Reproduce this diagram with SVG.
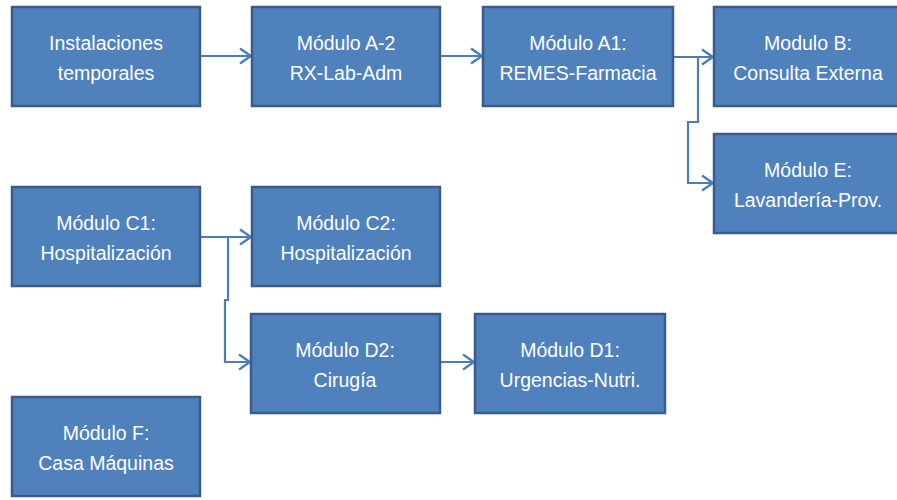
<svg xmlns="http://www.w3.org/2000/svg" width="897" height="500" viewBox="0 0 897 500">
<style>
.box{fill:#4F81BD;stroke:#385D8A;stroke-width:2.5}
.t{fill:#FFFFFF;font-family:"Liberation Sans",Arial,sans-serif;font-size:19.5px;text-anchor:middle}
.c{fill:none;stroke:#4A7EBB;stroke-width:2.2}
</style>
<defs>
<marker id="arr" markerWidth="14" markerHeight="18" refX="12" refY="9" orient="auto" markerUnits="userSpaceOnUse">
<polyline points="1,1.5 12,9 1,16.5" fill="none" stroke="#4A7EBB" stroke-width="2.4"/>
</marker>
</defs>
<rect width="897" height="500" fill="#FFFFFF"/>
<g id="connectors">
<path class="c" d="M200,56 H251" marker-end="url(#arr)"/>
<path class="c" d="M440,56 H482" marker-end="url(#arr)"/>
<path class="c" d="M673,57 H713" marker-end="url(#arr)"/>
<path class="c" d="M673,57 H698 V122 H688 V183 H713" marker-end="url(#arr)"/>
<path class="c" d="M200,237 H251" marker-end="url(#arr)"/>
<path class="c" d="M200,237 H228 V300 H225 V362 H250" marker-end="url(#arr)"/>
<path class="c" d="M440,362 H474" marker-end="url(#arr)"/>
</g>
<g id="n-instalaciones">
<rect class="box" x="12" y="7" width="188" height="99"/>
<text class="t" x="106" y="50">Instalaciones</text>
<text class="t" x="106" y="80">temporales</text>
</g>
<g id="n-a2">
<rect class="box" x="252" y="7" width="188" height="99"/>
<text class="t" x="346" y="50">Módulo A-2</text>
<text class="t" x="346" y="80">RX-Lab-Adm</text>
</g>
<g id="n-a1">
<rect class="box" x="483" y="7" width="190" height="99"/>
<text class="t" x="578" y="50">Módulo A1:</text>
<text class="t" x="578" y="80">REMES-Farmacia</text>
</g>
<g id="n-b">
<rect class="box" x="714" y="7" width="190" height="99"/>
<text class="t" x="808" y="50">Modulo B:</text>
<text class="t" x="808" y="80">Consulta Externa</text>
</g>
<g id="n-e">
<rect class="box" x="714" y="134" width="190" height="99"/>
<text class="t" x="808" y="177">Módulo E:</text>
<text class="t" x="808" y="207">Lavandería-Prov.</text>
</g>
<g id="n-c1">
<rect class="box" x="12" y="187" width="188" height="99"/>
<text class="t" x="106" y="230">Módulo C1:</text>
<text class="t" x="106" y="260">Hospitalización</text>
</g>
<g id="n-c2">
<rect class="box" x="252" y="187" width="188" height="99"/>
<text class="t" x="346" y="230">Módulo C2:</text>
<text class="t" x="346" y="260">Hospitalización</text>
</g>
<g id="n-d2">
<rect class="box" x="251" y="314" width="189" height="99"/>
<text class="t" x="345" y="357">Módulo D2:</text>
<text class="t" x="345" y="387">Cirugía</text>
</g>
<g id="n-d1">
<rect class="box" x="475" y="314" width="190" height="99"/>
<text class="t" x="570" y="357">Módulo D1:</text>
<text class="t" x="570" y="387">Urgencias-Nutri.</text>
</g>
<g id="n-f">
<rect class="box" x="12" y="397" width="188" height="99"/>
<text class="t" x="106" y="440">Módulo F:</text>
<text class="t" x="106" y="470">Casa Máquinas</text>
</g>
</svg>
